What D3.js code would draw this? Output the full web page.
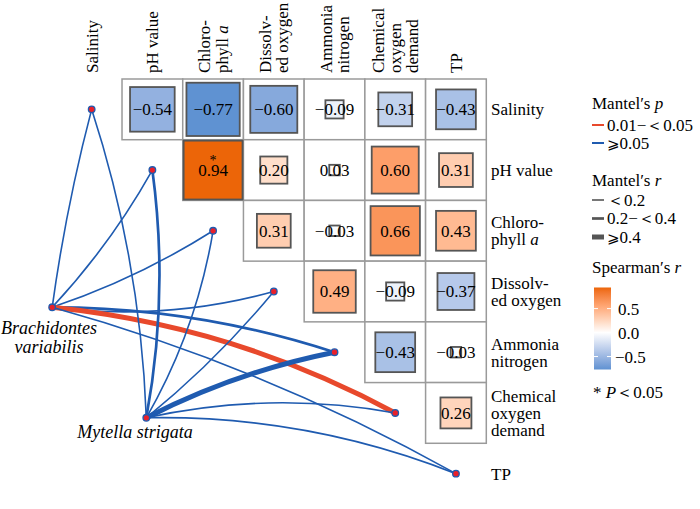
<!DOCTYPE html>
<html><head><meta charset="utf-8">
<script src="https://cdn.jsdelivr.net/npm/d3@7"></script>
<style>
body{margin:0;background:#fff}
</style>
</head><body>
<svg id="c" width="700" height="509" font-family="'Liberation Serif', 'Times New Roman', Times, 'DejaVu Serif', serif"></svg>
<script>
// ---------- data ----------
const variables = ["Salinity","pH value","Chlorophyll a","Dissolved oxygen","Ammonia nitrogen","Chemical oxygen demand","TP"];
const varLabelLines = [["Salinity"],["pH value"],["Chloro-","phyll a"],["Dissolv-","ed oxygen"],["Ammonia","nitrogen"],["Chemical","oxygen","demand"],["TP"]];
// Spearman's r, upper triangle (row i, column j > i)
const spearman = [
  [null,-0.54,-0.77,-0.60,-0.09,-0.31,-0.43],
  [null,null,0.94,0.20,0.03,0.60,0.31],
  [null,null,null,0.31,-0.03,0.66,0.43],
  [null,null,null,null,0.49,-0.09,-0.37],
  [null,null,null,null,null,-0.43,-0.03],
  [null,null,null,null,null,null,0.26],
  [null,null,null,null,null,null,null]
];
const significant = [[1,2]]; // P<0.05 cells
const species = ["Brachidontes variabilis","Mytella strigata"];
const speciesLabelLines = [["Brachidontes","variabilis"],["Mytella strigata"]];
// Mantel test classes for each species vs each variable
const brachMantelP = ["≥0.05","≥0.05","≥0.05","≥0.05","≥0.05","0.01-<0.05","≥0.05"];
const brachMantelR = ["<0.2","<0.2","<0.2","<0.2","0.2-<0.4","≥0.4","<0.2"];
const mytMantelP   = ["≥0.05","≥0.05","≥0.05","≥0.05","≥0.05","≥0.05","≥0.05"];
const mytMantelR   = ["<0.2","0.2-<0.4","<0.2","<0.2","≥0.4","<0.2","<0.2"];
const pClasses = ["0.01-<0.05","≥0.05"];
const rClasses = ["<0.2","0.2-<0.4","≥0.4"];
const colorTicks = [0.5,0.0,-0.5];
const rMin = -0.77, rMax = 0.94;

// ---------- scales ----------
const svg = d3.select("#c");
const n = variables.length;
const xb = d3.scaleBand().domain(d3.range(n)).range([61.3,486.3]);
const yb = d3.scaleBand().domain(d3.range(n)).range([79,504]);
const bw = xb.bandwidth();
const gx = d3.scaleLinear().domain([0,n]).range([61.3,486.3]);
const gy = d3.scaleLinear().domain([0,n]).range([79,504]);
const fill = d3.scaleLinear().domain([rMin,0,rMax]).range(["#5f92d2","#ffffff","#ec6508"]).interpolate(d3.interpolateLab);
const side = d3.scaleSqrt().domain([0,1]).range([0,bw]);
const pColor = d3.scaleOrdinal().domain(pClasses).range(["#e8492c","#1f5bb0"]);
const rWidth = d3.scaleOrdinal().domain(rClasses).range([1.6,2.7,5]);
const fmt = v => (v<0?"\u2212":"") + Math.abs(v).toFixed(2);

function addLine(sel, s){
  if (/ a$/.test(s)) { sel.append("tspan").text(s.slice(0,-1)); sel.append("tspan").attr("font-style","italic").text("a"); }
  else sel.text(s);
}

// ---------- grid cells ----------
const cells = [];
spearman.forEach((row,i)=>row.forEach((v,j)=>{ if(v!==null) cells.push({i,j,v}); }));
const gCells = svg.append("g");
gCells.selectAll("rect.grid").data(cells).join("rect")
  .attr("x",d=>xb(d.j)).attr("y",d=>yb(d.i)).attr("width",bw).attr("height",bw)
  .attr("fill","#fff").attr("stroke","#9a9a9a").attr("stroke-width",1.5);
gCells.selectAll("rect.sq").data(cells).join("rect")
  .attr("x",d=>xb(d.j)+(bw-side(Math.abs(d.v)))/2)
  .attr("y",d=>yb(d.i)+(bw-side(Math.abs(d.v)))/2)
  .attr("width",d=>side(Math.abs(d.v))).attr("height",d=>side(Math.abs(d.v)))
  .attr("fill",d=>fill(d.v)).attr("stroke","#555").attr("stroke-width",1.8);
gCells.selectAll("text.val").data(cells).join("text")
  .attr("x",d=>xb(d.j)+bw/2).attr("y",d=>yb(d.i)+bw/2).attr("dy","0.35em")
  .attr("text-anchor","middle").attr("font-size",17).text(d=>fmt(d.v));
gCells.selectAll("text.sig").data(significant).join("text")
  .attr("x",d=>xb(d[1])+bw/2).attr("y",d=>yb(d[0])+bw/2-5)
  .attr("text-anchor","middle").attr("font-size",14).text("*");

// ---------- column labels ----------
varLabelLines.forEach((lines,j)=>{
  lines.forEach((s,k)=>{
    const cx = xb(j)+bw/2 + (k-(lines.length-1)/2)*17.2;
    const t = svg.append("text").attr("transform",`translate(${cx},73) rotate(-90)`)
      .attr("dy","0.35em").attr("font-size",17);
    addLine(t,s);
  });
});
// ---------- row labels ----------
varLabelLines.forEach((lines,i)=>{
  lines.forEach((s,k)=>{
    const cy = yb(i)+bw/2 + (k-(lines.length-1)/2)*17.2;
    const t = svg.append("text").attr("x",491).attr("y",cy).attr("dy","0.35em").attr("font-size",17);
    addLine(t,s);
  });
});

// ---------- network ----------
const spPos = [[gx(-0.15),gy(3.76)],[gx(1.40),gy(5.58)]];
const envPos = d3.range(n).map(i=>[xb(i)+bw/2, yb(i)+bw/2]);
// curvature of each link (style): positive bends to the right of the species->variable direction
const curvature = [[-0.03,0.06,0.06,0.1,-0.08,-0.1,-0.06],[0.07,0.08,0.09,0.05,-0.07,-0.1,-0.1]];
const edges = [];
[[brachMantelP,brachMantelR],[mytMantelP,mytMantelR]].forEach(([P,R],s)=>{
  d3.range(n).forEach(i=>edges.push({s,i,p:P[i],r:R[i]}));
});
function curvePath(a,b,c){
  const dx=b[0]-a[0], dy=b[1]-a[1], d=Math.hypot(dx,dy);
  const mx=(a[0]+b[0])/2, my=(a[1]+b[1])/2;
  const nx=-dy/d, ny=dx/d;
  const cx=mx+nx*c*d, cy=my+ny*c*d;
  return `M${a[0]},${a[1]}Q${cx},${cy} ${b[0]},${b[1]}`;
}
const gEdges = svg.append("g").attr("fill","none");
gEdges.selectAll("path").data(edges).join("path")
  .attr("d",e=>curvePath(spPos[e.s],envPos[e.i], curvature[e.s][e.i]))
  .attr("stroke",e=>pColor(e.p)).attr("stroke-width",e=>rWidth(e.r));
svg.append("g").selectAll("circle").data(envPos.concat(spPos)).join("circle")
  .attr("cx",d=>d[0]).attr("cy",d=>d[1]).attr("r",3.3)
  .attr("fill","#e8202a").attr("stroke","#1f5bb0").attr("stroke-width",1.3);
const spLab = [[49,334],[135,438]];
speciesLabelLines.forEach((lines,s)=>{
  lines.forEach((t,k)=>{
    svg.append("text").attr("x",spLab[s][0]).attr("y",spLab[s][1]+k*19).attr("text-anchor","middle")
      .attr("font-size",18).attr("font-style","italic").text(t);
  });
});

// ---------- legend ----------
const lg = svg.append("g");
function title(y, pre, it){
  const t = lg.append("text").attr("x",592).attr("y",y).attr("font-size",17);
  t.append("tspan").text(pre); t.append("tspan").attr("font-style","italic").text(it);
}
function clsText(t, s){
  const parts = s.split(/(<|≥|-)/);
  parts.forEach(p=>{
    if(p==="<") t.append("tspan").text("\uFF1C");
    else if(p==="≥") t.append("tspan").attr("font-size",15).attr("font-family","'DejaVu Serif','DejaVu Sans'").text("\u2A7E");
    else if(p==="-") t.append("tspan").text("\u2212");
    else if(p) t.append("tspan").text(p);
  });
}
title(109,"Mantel\u2032s ","p");
pClasses.forEach((c,k)=>{
  const y = 125 + k*18;
  lg.append("line").attr("x1",592).attr("x2",604).attr("y1",y).attr("y2",y).attr("stroke",pColor(c)).attr("stroke-width",2);
  clsText(lg.append("text").attr("x",607).attr("y",y).attr("dy","0.35em").attr("font-size",17), c);
});
title(186,"Mantel\u2032s ","r");
rClasses.forEach((c,k)=>{
  const y = 200 + k*18.5;
  lg.append("line").attr("x1",592).attr("x2",604).attr("y1",y).attr("y2",y).attr("stroke","#555").attr("stroke-width",rWidth(c));
  clsText(lg.append("text").attr("x",607).attr("y",y).attr("dy","0.35em").attr("font-size",17), c);
});
title(273,"Spearman\u2032s ","r");
const cb = d3.scaleLinear().domain([rMin,rMax]).range([369.5,287.5]);
const defs = svg.append("defs");
const grad = defs.append("linearGradient").attr("id","gr").attr("x1",0).attr("x2",0).attr("y1",1).attr("y2",0);
d3.range(0,1.0001,0.05).forEach(t=>{
  const v = rMin + t*(rMax-rMin);
  grad.append("stop").attr("offset",t).attr("stop-color",fill(v));
});
lg.append("rect").attr("x",594).attr("y",cb(rMax)).attr("width",17).attr("height",cb(rMin)-cb(rMax)).attr("fill","url(#gr)");
colorTicks.forEach(v=>{
  lg.append("line").attr("x1",594).attr("x2",598).attr("y1",cb(v)).attr("y2",cb(v)).attr("stroke","#fff").attr("stroke-width",1);
  lg.append("line").attr("x1",607).attr("x2",611).attr("y1",cb(v)).attr("y2",cb(v)).attr("stroke","#fff").attr("stroke-width",1);
  lg.append("text").attr("x",v<0?615:618).attr("y",cb(v)).attr("dy","0.35em").attr("font-size",17).text((v<0?"\u2212":"")+Math.abs(v).toFixed(1));
});
const pt = lg.append("text").attr("x",593).attr("y",398).attr("font-size",17);
pt.append("tspan").text("* ");
pt.append("tspan").attr("font-style","italic").text("P");
pt.append("tspan").text("\uFF1C0.05");
</script>
</body></html>
